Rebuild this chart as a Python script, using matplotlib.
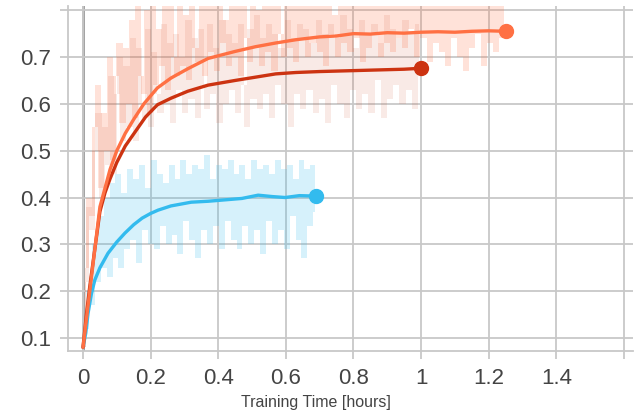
import numpy as np
import matplotlib
matplotlib.use("Agg")
import matplotlib.pyplot as plt

plt.rcParams['font.family'] = ['Liberation Sans', 'DejaVu Sans']

# smoothed curves
orange_x = [0, 0.01, 0.02, 0.035, 0.05, 0.065, 0.08, 0.1, 0.125, 0.15, 0.18, 0.22, 0.26, 0.31, 0.37,
            0.45, 0.51, 0.57, 0.63, 0.70, 0.75, 0.80, 0.85, 0.90, 0.95, 1.0, 1.05, 1.10,
            1.15, 1.20, 1.25]
orange_y = [0.08, 0.14, 0.20, 0.29, 0.38, 0.42, 0.46, 0.50, 0.537, 0.567, 0.60, 0.634, 0.655, 0.675, 0.697,
            0.712, 0.722, 0.730, 0.737, 0.743, 0.745, 0.750, 0.749, 0.752, 0.751, 0.753, 0.754, 0.753,
            0.755, 0.756, 0.755]

red_x = [0, 0.01, 0.02, 0.035, 0.05, 0.065, 0.08, 0.1, 0.125, 0.154, 0.185, 0.22, 0.26, 0.31, 0.37,
         0.45, 0.51, 0.57, 0.63, 0.70, 0.75, 0.80, 0.85, 0.90, 0.95, 1.0]
red_y = [0.08, 0.15, 0.21, 0.29, 0.37, 0.41, 0.44, 0.475, 0.51, 0.54, 0.572, 0.598, 0.612, 0.627, 0.64,
         0.65, 0.657, 0.664, 0.667, 0.669, 0.670, 0.671, 0.672, 0.673, 0.674, 0.676]

blue_x = [0, 0.008, 0.015, 0.025, 0.035, 0.05, 0.074, 0.1, 0.124, 0.15, 0.175, 0.2, 0.222, 0.26,
          0.32, 0.37, 0.42, 0.47, 0.518, 0.56, 0.598, 0.64, 0.69]
blue_y = [0.08, 0.11, 0.153, 0.195, 0.224, 0.25, 0.281, 0.305, 0.324, 0.342, 0.356, 0.366, 0.373, 0.382,
          0.39, 0.392, 0.395, 0.398, 0.405, 0.402, 0.40, 0.404, 0.403]

# raw (unsmoothed) values, evenly spaced in time
orange_raw = [0.08, 0.25, 0.40, 0.36, 0.55, 0.64, 0.42, 0.58, 0.50, 0.70, 0.48, 0.66, 0.73, 0.56, 0.72,
              0.60, 0.78, 0.57, 0.82, 0.66, 0.62, 0.80, 0.58, 0.86, 0.64, 0.76, 0.68, 0.84, 0.63, 0.82,
              0.70, 0.66, 0.87, 0.68, 0.79, 0.65, 0.85, 0.72, 0.69, 0.88, 0.66, 0.82, 0.71, 0.86, 0.67,
              0.84, 0.73, 0.78, 0.68, 0.89, 0.70, 0.83, 0.66, 0.87, 0.74, 0.69, 0.85, 0.72, 0.80, 0.68,
              0.88, 0.71, 0.86, 0.67, 0.84, 0.75, 0.70, 0.89, 0.72, 0.83, 0.69, 0.87, 0.74, 0.85, 0.70,
              0.82, 0.73, 0.88, 0.71, 0.86, 0.68, 0.84, 0.75, 0.79, 0.70, 0.89, 0.73, 0.85, 0.71, 0.87,
              0.74, 0.86, 0.69, 0.83, 0.72, 0.88, 0.75, 0.84, 0.70, 0.87, 0.73, 0.81, 0.71, 0.89, 0.74,
              0.85, 0.72, 0.87, 0.76, 0.83, 0.70, 0.88, 0.74, 0.86, 0.69, 0.84, 0.73, 0.89, 0.71, 0.86,
              0.68, 0.85, 0.74, 0.87, 0.70, 0.83, 0.67, 0.88, 0.72, 0.86, 0.75, 0.84, 0.68, 0.87, 0.73,
              0.85, 0.71, 0.88, 0.74, 0.86]
red_raw = [0.08, 0.22, 0.38, 0.33, 0.50, 0.58, 0.40, 0.55, 0.47, 0.66, 0.45, 0.62, 0.70, 0.52, 0.68,
           0.55, 0.74, 0.52, 0.72, 0.60, 0.57, 0.76, 0.55, 0.71, 0.62, 0.58, 0.77, 0.60, 0.73, 0.56,
           0.75, 0.63, 0.70, 0.58, 0.78, 0.61, 0.74, 0.57, 0.76, 0.64, 0.59, 0.77, 0.62, 0.72, 0.56,
           0.78, 0.60, 0.75, 0.63, 0.73, 0.58, 0.77, 0.64, 0.55, 0.76, 0.61, 0.79, 0.59, 0.74, 0.62,
           0.77, 0.57, 0.75, 0.64, 0.72, 0.60, 0.78, 0.55, 0.74, 0.62, 0.77, 0.59, 0.76, 0.63, 0.73,
           0.58, 0.78, 0.61, 0.75, 0.56, 0.77, 0.64, 0.74, 0.60, 0.79, 0.57, 0.76, 0.63, 0.72, 0.59,
           0.78, 0.62, 0.75, 0.58, 0.77, 0.65, 0.73, 0.57, 0.79, 0.61, 0.76, 0.64, 0.74, 0.60, 0.78,
           0.63, 0.75, 0.59, 0.77, 0.66]
blue_raw = [0.08, 0.12, 0.20, 0.17, 0.30, 0.22, 0.36, 0.25, 0.40, 0.23, 0.43, 0.27, 0.45, 0.25, 0.41, 0.29,
            0.46, 0.31, 0.44, 0.26, 0.47, 0.33, 0.42, 0.30, 0.48, 0.29, 0.45, 0.34, 0.43, 0.30, 0.47, 0.32,
            0.44, 0.28, 0.48, 0.35, 0.45, 0.31, 0.47, 0.27, 0.46, 0.33, 0.49, 0.30, 0.44, 0.34, 0.47, 0.29,
            0.46, 0.35, 0.48, 0.31, 0.45, 0.29, 0.47, 0.34, 0.44, 0.30, 0.48, 0.33, 0.46, 0.28, 0.47, 0.35,
            0.45, 0.30, 0.48, 0.33, 0.46, 0.29, 0.47, 0.36, 0.44, 0.31, 0.48, 0.27, 0.46, 0.34, 0.47, 0.37]

xticks = [0, 0.2, 0.4, 0.6, 0.8, 1.0, 1.2, 1.4, 1.6]
xtick_labels = ['0', '0.2', '0.4', '0.6', '0.8', '1', '1.2', '1.4', '']
yticks = [0.1, 0.2, 0.3, 0.4, 0.5, 0.6, 0.7, 0.8]
ytick_labels = ['0.1', '0.2', '0.3', '0.4', '0.5', '0.6', '0.7', '']

c_orange = '#ff7043'
c_red = '#cc3311'
c_blue = '#33bbee'
grid_c = '#c8c8c8'


def raw_band(ax, raw, t_end, color, alpha):
    # the dense raw line sweeps between neighbouring samples
    raw = np.array(raw)
    t = np.linspace(0, t_end, len(raw))
    lo = np.minimum(raw[:-1], raw[1:])
    hi = np.maximum(raw[:-1], raw[1:])
    tm = (t[:-1] + t[1:]) / 2
    ax.fill_between(tm, lo, hi, step='mid', color=color, alpha=alpha, lw=0, zorder=2)


fig = plt.figure(figsize=(6.37, 4.16), dpi=100)
ax = fig.add_axes([68 / 637, 1 - 351 / 416, 565 / 637, 345 / 416])

raw_band(ax, blue_raw, 0.69, c_blue, 0.2)
raw_band(ax, orange_raw, 1.25, c_orange, 0.2)
raw_band(ax, red_raw, 1.0, c_red, 0.1)

# smoothed lines with end markers
for xs, ys, c in [(blue_x, blue_y, c_blue), (red_x, red_y, c_red), (orange_x, orange_y, c_orange)]:
    ax.plot(xs, ys, color=c, lw=2.4, zorder=4, solid_capstyle='round', solid_joinstyle='round')
    ax.plot(xs[-1], ys[-1], 'o', color=c, ms=10, zorder=5)

ax.set_xlim(-0.0444, 1.627)
ax.set_ylim(0.0722, 0.809)
ax.set_xticks(xticks)
ax.set_xticklabels(xtick_labels)
ax.set_yticks(yticks)
ax.set_yticklabels(ytick_labels)
ax.grid(True, color=grid_c, lw=1.3, zorder=1)
ax.axvline(0, color='#999999', lw=2, zorder=1.5)
ax.tick_params(axis='both', colors=grid_c, labelcolor='#444444', labelsize=16, length=6, width=1.3)
ax.tick_params(axis='x', pad=6)
ax.tick_params(axis='y', pad=6)
for s in ['top', 'right']:
    ax.spines[s].set_visible(False)
for s in ['left', 'bottom']:
    ax.spines[s].set_color(grid_c)
    ax.spines[s].set_linewidth(1.3)

fig.text(316 / 637, 1 - 402 / 416, 'Training Time [hours]', ha='center', va='center',
         fontsize=11.5, color='#444444')

fig.savefig('out.png', dpi=100)
